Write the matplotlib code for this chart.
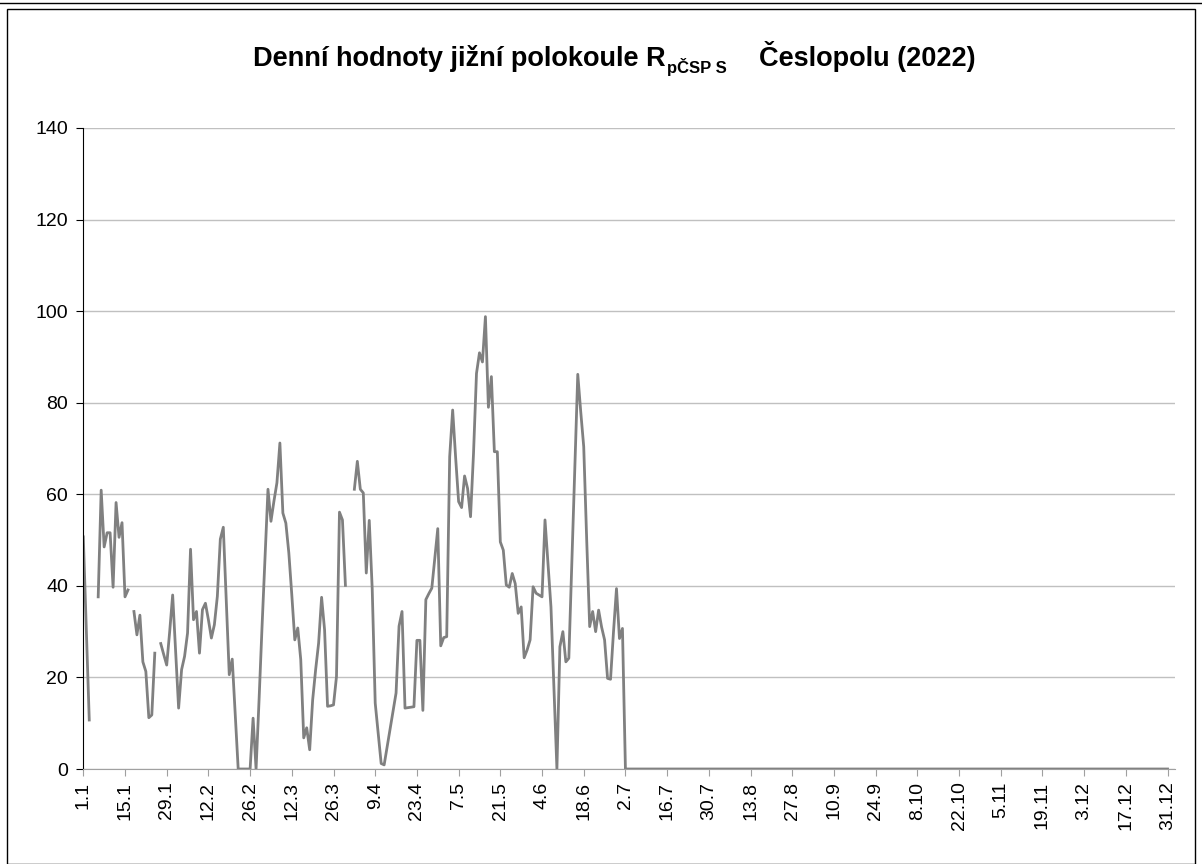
import numpy as np
import matplotlib.pyplot as plt
from matplotlib.patches import Rectangle
from matplotlib.lines import Line2D

plt.rcParams['font.family'] = ['Liberation Sans', 'DejaVu Sans']

# x-axis labels, every 14 days from 1.1.2022
tick_labels = ['1.1', '15.1', '29.1', '12.2', '26.2', '12.3', '26.3', '9.4',
               '23.4', '7.5', '21.5', '4.6', '18.6', '2.7', '16.7', '30.7',
               '13.8', '27.8', '10.9', '24.9', '8.10', '22.10', '5.11',
               '19.11', '3.12', '17.12', '31.12']

# daily values 1.1. - 2.7. (None = missing day)
values_jan_jul = [
    50.7, 30.5, 10.7, None, None, 37.6, 60.9, 48.5, 51.6, 51.6,
    39.7, 58.2, 50.6, 53.8, 37.6, 39.1, None, 34.4, 29.3, 33.6,
    23.4, 21.3, 11.2, 11.8, 25.3, None, 27.4, 25.0, 22.7, 30.0,
    38.0, 25.7, 13.3, 21.7, 24.6, 29.7, 48.0, 32.6, 34.4, 25.3,
    34.8, 36.2, 32.6, 28.6, 31.5, 37.7, 50.2, 52.8, 36.7, 20.6,
    24.0, 12.0, 0, 0, 0, 0, 0, 11.1, 0, 15.0,
    31.0, 46.0, 61.1, 54.1, 58.5, 62.5, 71.2, 55.9, 53.7, 47.2,
    38.0, 28.2, 30.8, 23.9, 6.8, 9.0, 4.2, 15.1, 21.7, 27.5,
    37.5, 30.4, 13.7, 13.8, 14.0, 20.2, 56.1, 54.4, 40.1, None,
    None, 61.1, 67.2, 61.1, 60.3, 42.8, 54.3, 39.2, 14.4, 7.8,
    1.2, 0.9, 4.8, 8.6, 12.6, 16.6, 31.2, 34.4, 13.3, 13.4,
    13.5, 13.6, 28.1, 28.1, 12.8, 37.0, 38.3, 39.5, 46.0, 52.5,
    26.9, 28.7, 28.9, 68.2, 78.4, 68.0, 58.4, 57.1, 64.0, 61.3,
    55.1, 68.9, 86.4, 90.9, 88.9, 98.8, 79.0, 85.7, 69.3, 69.3,
    49.6, 47.8, 40.2, 39.7, 42.7, 40.5, 34.0, 35.4, 24.3, 26.0,
    28.2, 39.8, 38.4, 38.0, 37.6, 54.4, 45.0, 35.4, 18.0, 0,
    26.7, 30.0, 23.4, 24.2, 45.0, 66.0, 86.2, 78.0, 70.4, 50.0,
    31.1, 34.4, 30.0, 34.7, 31.0, 28.2, 19.8, 19.6, 30.0, 39.4,
    28.5, 30.7, 0,
]
# 3.7. - 31.12.: all zero
values_jul_dec = [0] * 182

vals = np.array([np.nan if v is None else v for v in values_jan_jul + values_jul_dec])
days = np.arange(len(vals))

W, H = 1202, 864
fig = plt.figure(figsize=(W / 100, H / 100), dpi=100)

# chart border
fig.add_artist(Line2D([0, 1], [1 - 2.5 / H, 1 - 2.5 / H], color='black', lw=1))
fig.add_artist(Rectangle((7 / W, 0), (1195 - 7) / W, 1 - 8.5 / H, fill=False,
                         edgecolor='black', lw=1))

x0, x1, y0, y1 = 83.3, 1175, 769, 128
ax = fig.add_axes([x0 / W, 1 - y0 / H, (x1 - x0) / W, (y0 - y1) / H])

ax.plot(days, vals, color='#808080', lw=2.0)

ax.set_xlim(0, 366.5)
ax.set_ylim(0, 140)
ax.set_yticks(range(0, 141, 20))
ax.set_xticks(range(0, 365, 14))
ax.set_xticklabels(tick_labels, rotation=90)
ax.grid(axis='y', color='#c0c0c0', lw=1)
ax.set_axisbelow(True)

for s in ['top', 'right']:
    ax.spines[s].set_visible(False)
ax.spines['left'].set_color('black')
ax.spines['bottom'].set_color('#a0a0a0')
ax.tick_params(axis='y', direction='out', length=5, color='black',
               labelsize=14, pad=6)
ax.tick_params(axis='x', direction='out', length=5, color='#a0a0a0',
               labelsize=14, pad=4)

# title with subscript
ty = 1 - 66 / H
fig.text(253 / W, ty, 'Denní hodnoty jižní polokoule R', fontsize=19.5,
         fontweight='bold', va='baseline', ha='left')
fig.text(667 / W, 1 - 73 / H, 'pČSP S', fontsize=12, fontweight='bold',
         va='baseline', ha='left')
fig.text(759 / W, ty, 'Česlopolu (2022)', fontsize=19.5, fontweight='bold',
         va='baseline', ha='left')

fig.savefig('out.png', dpi=100)
